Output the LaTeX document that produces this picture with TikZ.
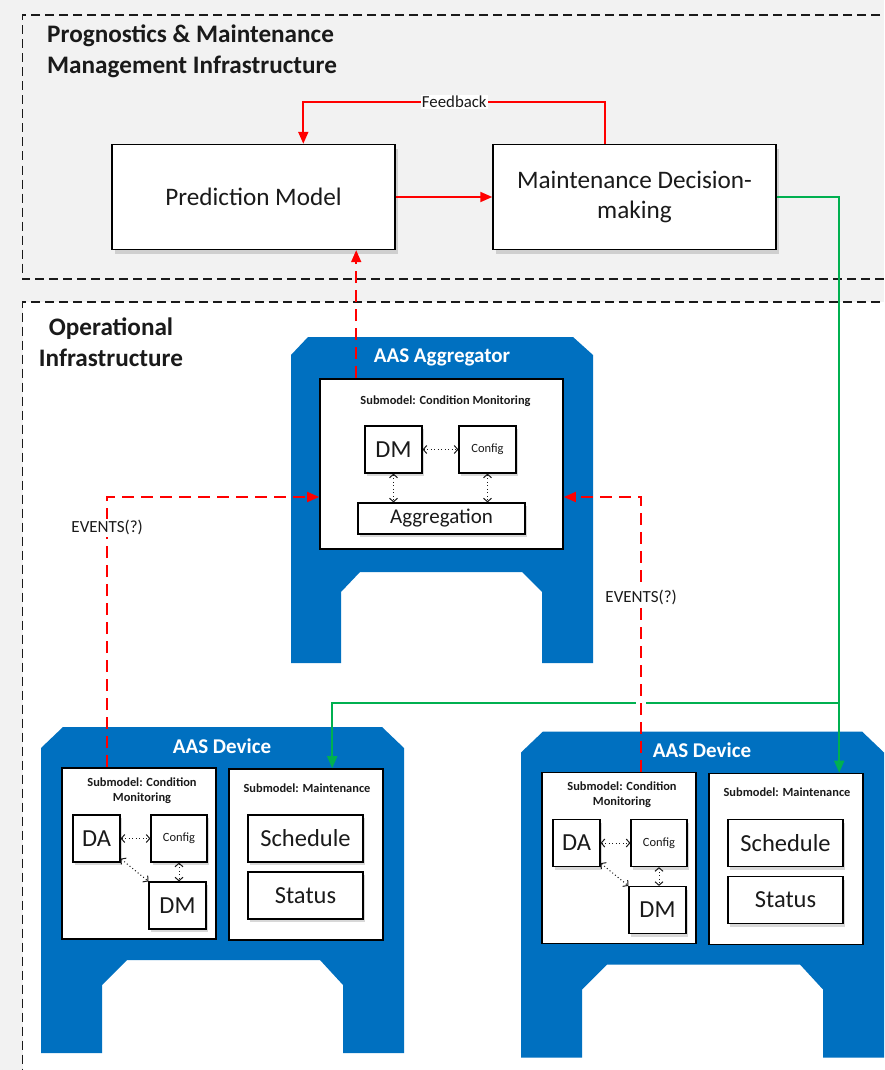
\documentclass[tikz,border=0pt]{standalone}
\usepackage{fontspec}
\setmainfont{Carlito}
\usetikzlibrary{arrows.meta,shadows,calc}

\definecolor{bgGray}{HTML}{F2F2F2}
\definecolor{aasBlue}{HTML}{0070C0}
\definecolor{evRed}{HTML}{FF0000}
\definecolor{linkGreen}{HTML}{00B050}
\definecolor{ink}{HTML}{1A1A1A}

\tikzset{
  frame/.style={draw=ink, dash pattern=on 9pt off 5pt, line width=1.5pt},
  zonetitle/.style={font=\bfseries\fontsize{25.2}{30}\selectfont, text=ink, inner sep=0},
  bigbox/.style={draw=black, fill=white, line width=1.4pt, inner sep=0, align=center,
    text=ink, font=\fontsize{25.2}{30}\selectfont,
    drop shadow={shadow xshift=3pt, shadow yshift=-4pt, opacity=0.3}},
  smbox/.style={draw=black, fill=white, line width=1.6pt, inner sep=0},
  item/.style={draw=black, fill=white, line width=1.2pt, inner sep=0, text=ink,
    drop shadow={shadow xshift=2pt, shadow yshift=-3pt, opacity=0.3}},
  bigitem/.style={item, font=\fontsize{24.5}{29}\selectfont},
  smallitem/.style={item, font=\fontsize{12.5}{15}\selectfont},
  aastitle/.style={text=white, font=\bfseries\fontsize{21}{25}\selectfont, inner sep=0},
  smtitle/.style={font=\bfseries\fontsize{12.4}{15}\selectfont, align=center, inner sep=0, text=ink},
  redflow/.style={draw=evRed, line width=1.8pt, -{Triangle[length=12pt,width=10pt]}},
  reddash/.style={redflow, dash pattern=on 12pt off 7pt},
  greenflow/.style={draw=linkGreen, line width=1.8pt, -{Triangle[length=12pt,width=10pt]}},
  dotlink/.style={draw=ink, line width=1pt, dash pattern=on 1pt off 2.5pt,
    {Straight Barb[length=3.5pt,width=8pt]}-{Straight Barb[length=3.5pt,width=8pt]}},
  flowlabel/.style={fill=white, inner sep=1.5pt, text=ink, font=\fontsize{17}{20}\selectfont},
}

% One asset administration shell of a field device; #1 prefixes the node names
\newcommand\aasdevice[1]{%
  \fill[aasBlue] (41,748) -- (63,727) -- (382,727) -- (404,748) -- (404,1053)
    -- (343,1053) -- (343,985) -- (320,960) -- (127,960) -- (102,985)
    -- (102,1053) -- (41,1053) -- cycle;
  \node[aastitle] (#1title) at (222,746) {AAS Device};
  % condition monitoring submodel
  \node[smbox, minimum width=154pt, minimum height=171pt] (#1cm) at (139,853.5) {};
  \node[smtitle] (#1cmtitle) at (142,790.5) {Submodel: Condition\\Monitoring};
  \node[bigitem, minimum width=47pt, minimum height=47pt] (#1da) at (96.5,838.5) {DA};
  \node[smallitem, minimum width=56pt, minimum height=47pt] (#1cfg) at (179,838.5) {Config};
  \node[bigitem, minimum width=57pt, minimum height=47pt] (#1dm) at (177.5,905.5) {DM};
  \draw[dotlink] (#1da.east) -- (#1cfg.west);
  \draw[dotlink] (#1cfg.south) -- (#1cfg.south |- #1dm.north);
  \draw[dotlink] ($(#1da.south east)+(0,-4)$) -- (#1dm.north west);
  % maintenance submodel
  \node[smbox, minimum width=154pt, minimum height=171pt] (#1ms) at (306,854.5) {};
  \node[smtitle] (#1mstitle) at (307,788) {Submodel: Maintenance};
  \node[bigitem, minimum width=115pt, minimum height=47pt] (#1sched) at (305.5,838.5) {Schedule};
  \node[bigitem, minimum width=115pt, minimum height=47pt] (#1stat) at (305.5,895.5) {Status};
}

\begin{document}
\begin{tikzpicture}[x=1pt, y=-1pt]
  \useasboundingbox (0,0) rectangle (884,1070);
  \clip (0,0) rectangle (884,1070);
  \fill[bgGray] (0,0) rectangle (884,1070);

  % zone frames
  \draw[frame] (950,15) -- (22.5,15) -- (22.5,279) -- (950,279);
  \fill[white] (22.5,302) rectangle (950,1100);
  \draw[frame] (950,302) -- (22.5,302) -- (22.5,1100);

  \node[zonetitle, anchor=base west] (pmtitleA) at (47,43) {Prognostics \& Maintenance};
  \node[zonetitle, anchor=base west] (pmtitleB) at (47,74) {Management Infrastructure};
  \node[zonetitle, anchor=base] (optitleA) at (111,335) {Operational};
  \node[zonetitle, anchor=base] (optitleB) at (111,366) {Infrastructure};

  % prognostics components
  \node[bigbox, minimum width=283pt, minimum height=105pt] (pm) at (253.5,197) {Prediction Model};
  \node[bigbox, minimum width=283pt, minimum height=105pt] (md) at (634.5,197)
    {Maintenance Decision-\\making};

  % aggregator shell
  \fill[aasBlue] (291,355) -- (308,337) -- (573,337) -- (593,355) -- (593,663)
    -- (542,663) -- (542,592) -- (522,572) -- (360,572) -- (341,592)
    -- (341,663) -- (291,663) -- cycle;
  \node[aastitle] (aggtitle) at (442,357) {AAS Aggregator};
  \node[smbox, minimum width=243pt, minimum height=170pt] (aggsm) at (441.5,464) {};
  \node[smtitle] (aggsmtitle) at (445.5,401) {Submodel: Condition Monitoring};
  \node[bigitem, minimum width=57pt, minimum height=47pt] (adm) at (393.5,449.5) {DM};
  \node[smallitem, minimum width=57pt, minimum height=47pt] (acfg) at (487.5,449.5) {Config};
  \node[item, font=\fontsize{21}{25}\selectfont, minimum width=167pt, minimum height=31pt]
    (aggr) at (441.5,518.5) {Aggregation};
  \draw[dotlink] (adm.east) -- (acfg.west);
  \draw[dotlink] (adm.south) -- (adm.south |- aggr.north);
  \draw[dotlink] (acfg.south) -- (acfg.south |- aggr.north);

  % field devices
  \begin{scope}\aasdevice{l}\end{scope}
  \begin{scope}[shift={(480,4.5)}]\aasdevice{r}\end{scope}

  % maintenance orders to the devices
  \coordinate (rg) at ($(rms.north west)+(131,0)$);
  \coordinate (lg) at ($(lms.north west)+(104,0)$);
  \coordinate (gj) at ($(rg)+(0,-70)$);
  \draw[greenflow] (md.east) -| (rg);
  \draw[greenflow] (gj) -| (lg);

  % condition events and feedback
  \coordinate (lred) at ($(lcm.north west)+(46,0)$);
  \coordinate (rred) at ($(rcm.north west)+(100,0)$);
  \fill[white] ($(rred |- gj)+(-5,-2)$) rectangle ($(rred |- gj)+(5,2)$);
  \draw[reddash] (lred) |- node[flowlabel, pos=0.443] {EVENTS(?)} ($(aggsm.west)+(0,33)$);
  \draw[reddash] (rred) |- node[flowlabel, pos=0.318] {EVENTS(?)} ($(aggsm.east)+(0,33)$);
  \coordinate (aggup) at ($(aggsm.north west)+(37,0)$);
  \draw[reddash] (aggup) -- (pm.south -| aggup);
  \draw[redflow] (pm.east) -- (md.west);
  \coordinate (fbA) at ($(md.north west)+(113,0)$);
  \coordinate (fbB) at ($(pm.north west)+(192,0)$);
  \coordinate (fbmid) at ($(fbA)+(0,-42)$);
  \draw[redflow] (fbA) -- (fbmid) -| (fbB);
  \node[flowlabel, font=\fontsize{16.8}{20}\selectfont, inner sep=1pt] (fblabel)
    at ($(fbmid -| fbA)!0.5!(fbmid -| fbB)$) {Feedback};
\end{tikzpicture}
\end{document}
